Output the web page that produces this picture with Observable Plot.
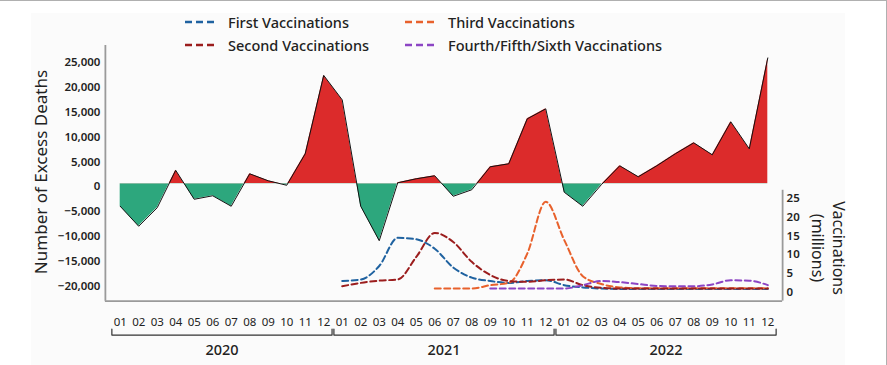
<!DOCTYPE html>
<html><head><meta charset="utf-8">
<script src="https://cdn.jsdelivr.net/npm/d3@7"></script>
<script src="https://cdn.jsdelivr.net/npm/@observablehq/plot@0.6"></script>
<style>
html,body{margin:0;padding:0;background:#fff;}
#wrap{position:relative;width:886px;height:364px;overflow:hidden;font-family:"Noto Sans",sans-serif;color:#222;border-top:1px solid #b0b0b0;border-right:1px solid #b0b0b0;}
#bg{position:absolute;left:31px;top:12px;width:814px;height:352px;background:#fbfbfb;}
.layer{position:absolute;left:0;top:-1px;}
.layer svg{display:block;}
.title{position:absolute;white-space:nowrap;transform:translate(-50%,-50%);}
#legend{position:absolute;left:185px;top:9px;display:grid;grid-auto-flow:column;grid-template-rows:repeat(2,23.5px);grid-template-columns:220px auto;}
.item{display:flex;align-items:center;font-size:14.5px;font-weight:500;color:#222;}
.item svg{margin-right:13px;}
</style></head>
<body>
<div id="wrap">
  <div id="bg"></div>
  <div id="legend"></div>
  <div class="title" style="left:40px;top:171px;transform:translate(-50%,-50%) rotate(-90deg);font-size:17px;">Number of Excess Deaths</div>
  <div class="title" style="left:828px;top:247px;transform:translate(-50%,-50%) rotate(90deg);font-size:16px;line-height:21px;text-align:center;">Vaccinations<br>(millions)</div>
</div>
<script>
const months = ["01","02","03","04","05","06","07","08","09","10","11","12"];
const years = ["2020","2021","2022"];

const excessDeaths = [
  -4500, -8500, -4800, 2700, -3100, -2400, -4500, 2000, 600, -300, 6000, 21700,
  16800, -4500, -11400, 200, 1000, 1600, -2500, -1200, 3400, 4000, 13000, 15000,
  -1700, -4500, -200, 3600, 1400, 3600, 6000, 8200, 5800, 12400, 7000, 25200
];

const firstVacc = [
  null,null,null,null,null,null,null,null,null,null,null,null,
  2.3, 2.7, 6.3, 13.8, 13.4, 10.9, 5.9, 3.2, 2.3, 1.8, 2.3, 2.5,
  1.2, 0.6, 0.3, 0.2, 0.2, 0.2, 0.2, 0.2, 0.2, 0.2, 0.2, 0.2
];
const secondVacc = [
  null,null,null,null,null,null,null,null,null,null,null,null,
  0.9, 1.8, 2.4, 2.7, 8.7, 15.1, 12.7, 7.4, 3.9, 2.3, 2.1, 2.5,
  2.7, 1.2, 0.5, 0.3, 0.3, 0.3, 0.3, 0.3, 0.3, 0.3, 0.3, 0.3
];
const thirdVacc = [
  null,null,null,null,null,null,null,null,null,null,null,null,
  null,null,null,null,null, 0.3, 0.3, 0.3, 1.2, 1.8, 9.6, 23.4,
  13.2, 3.6, 1.5, 0.6, 0.4, 0.4, 0.4, 0.4, 0.4, 0.4, 0.4, 0.4
];
const fourthVacc = [
  null,null,null,null,null,null,null,null,null,null,null,null,
  null,null,null,null,null,null,null,null, 0.3, 0.3, 0.3, 0.3,
  0.3, 1.2, 2.3, 2.0, 1.5, 1.0, 0.9, 0.9, 1.4, 2.5, 2.4, 1.2
];

const seriesNames = ["First Vaccinations","Second Vaccinations","Third Vaccinations","Fourth/Fifth/Sixth Vaccinations"];
const seriesValues = [firstVacc, secondVacc, thirdVacc, fourthVacc];
const seriesColors = ["#1f62a0","#9b1d1d","#e8612c","#8c45c4"];

const deathTicks = [-20000,-15000,-10000,-5000,0,5000,10000,15000,20000,25000];
const vaccTicks = [0,5,10,15,20,25];

const W = 887, H = 365;
const xDomain = [-0.8, 35.8];
const deathDomain = [-23500, 27700];
const vaccDomain = [-3.06, 26.46];
const axisGray = "#9a9a9a";
const textColor = "#222";

const common = {
  width: W, height: H, marginLeft: 105, marginRight: 104, marginBottom: 64,
  x: {type: "linear", domain: xDomain, axis: null},
  style: {background: "transparent", fontFamily: "'Noto Sans', sans-serif", overflow: "visible"}
};

const wrap = document.getElementById("wrap");
function addLayer(svg) {
  const d = document.createElement("div");
  d.className = "layer";
  d.appendChild(svg);
  wrap.appendChild(d);
}

// Excess deaths
const deathData = excessDeaths.map((v, i) => ({i, v}));
const p1 = Plot.plot({
  ...common,
  marginTop: 45,
  y: {domain: deathDomain},
  marks: [
    Plot.areaY(deathData, {x: "i", y1: 0, y2: "v", fill: "#dc2b2b"}),
    Plot.areaY(deathData, {x: "i", y1: 0, y2: "v", fill: "#2da77d"}),
    Plot.lineY(deathData, {x: "i", y: "v", stroke: "#111", strokeWidth: 1}),
    Plot.ruleX([xDomain[0]], {stroke: axisGray, strokeWidth: 1.8}),
    Plot.ruleY([deathDomain[0]], {stroke: axisGray, strokeWidth: 1.6}),
    Plot.axisY({ticks: deathTicks, tickSize: 0, tickPadding: 5, tickFormat: d3.format(","),
      fontSize: 11.5, fontWeight: 600, dy: 3, label: null, fill: textColor})
  ]
});
// clip the two areas at the zero line
(function () {
  const ns = "http://www.w3.org/2000/svg";
  const y0 = p1.scale("y").apply(0);
  const defs = document.createElementNS(ns, "defs");
  function clip(id, a, b) {
    const cp = document.createElementNS(ns, "clipPath");
    cp.setAttribute("id", id);
    const r = document.createElementNS(ns, "rect");
    r.setAttribute("x", 0); r.setAttribute("y", a);
    r.setAttribute("width", W); r.setAttribute("height", b - a);
    cp.appendChild(r); defs.appendChild(cp);
  }
  clip("clipPos", 0, y0);
  clip("clipNeg", y0, H);
  p1.insertBefore(defs, p1.firstChild);
  const areas = p1.querySelectorAll('g[aria-label="area"]');
  if (areas[0]) areas[0].setAttribute("clip-path", "url(#clipPos)");
  if (areas[1]) areas[1].setAttribute("clip-path", "url(#clipNeg)");
})();
addLayer(p1);

// Vaccinations
const drawOrder = [0, 2, 1, 3];
const p2 = Plot.plot({
  ...common,
  marginTop: 190,
  y: {domain: vaccDomain},
  marks: [
    Plot.ruleX([xDomain[1]], {stroke: axisGray, strokeWidth: 1.8}),
    ...drawOrder.map(k => Plot.lineY(
      seriesValues[k].map((v, i) => ({i, v})).filter(d => d.v != null),
      {x: "i", y: "v", stroke: seriesColors[k], strokeWidth: 2, strokeDasharray: "6,3.5", curve: "monotone-x"})),
    Plot.axisY({anchor: "right", ticks: vaccTicks, tickSize: 0, tickPadding: 4,
      fontSize: 11.5, fontWeight: 600, dy: 2.5, label: null, fill: textColor})
  ]
});
addLayer(p2);

// Bottom axis: months, year brackets, years
const monthData = [];
years.forEach((yr, yi) => months.forEach((m, mi) => monthData.push({i: yi * 12 + mi, m})));
const bracketPts = [];
years.forEach((yr, yi) => {
  const s = yi * 12 - 0.45, e = yi * 12 + 11 + 0.45;
  bracketPts.push({x: s, y: 1, yr}, {x: s, y: 0, yr}, {x: e, y: 0, yr}, {x: e, y: 1, yr});
});
const p3 = Plot.plot({
  ...common,
  marginTop: 329, marginBottom: 30,
  y: {domain: [0, 1], axis: null},
  marks: [
    Plot.line(bracketPts, {x: "x", y: "y", z: "yr", stroke: "#333", strokeWidth: 1.2}),
    Plot.text(monthData, {x: "i", text: "m", frameAnchor: "top", dy: -11, fontSize: 11.5, fill: textColor}),
    Plot.text(years, {x: (d, i) => i * 12 + 5.5, text: d => d, frameAnchor: "bottom", dy: 20,
      fontSize: 14.5, fontWeight: 500, fill: textColor})
  ]
});
addLayer(p3);

// Legend
const legend = document.getElementById("legend");
seriesNames.forEach((name, k) => {
  const it = document.createElement("div");
  it.className = "item";
  it.innerHTML = `<svg width="30" height="6"><line x1="0" y1="3" x2="30" y2="3" stroke="${seriesColors[k]}" stroke-width="2.5" stroke-dasharray="7,4"/></svg><span>${name}</span>`;
  legend.appendChild(it);
});
wrap.appendChild(legend);
</script>
</body></html>
